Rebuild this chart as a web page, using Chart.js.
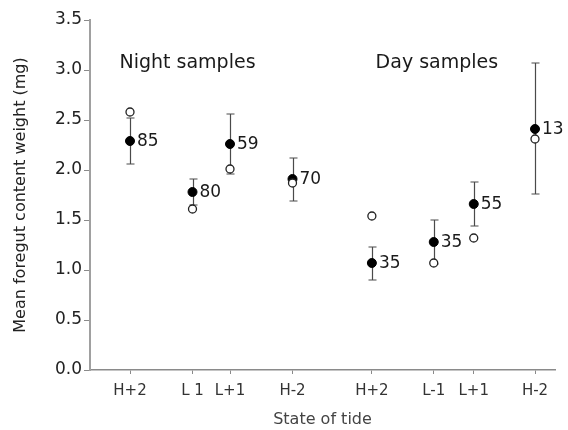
<!DOCTYPE html>
<html>
<head>
<meta charset="utf-8">
<script src="https://cdn.jsdelivr.net/npm/chart.js@4.4.1/dist/chart.umd.min.js"></script>
<style>
  html, body { margin: 0; padding: 0; background: #fff; }
  #wrap { width: 568px; height: 430px; }
</style>
</head>
<body>
<div id="wrap"><canvas id="chart" width="568" height="430"></canvas></div>
<script>
    "use strict";

    // State of tide (x position in tide hours, ticks)
    var tideLabels = ["H+2", "L 1", "L+1", "H-2", "H+2", "L-1", "L+1", "H-2"];
    var tidePos = [0, 1.0, 1.6, 2.6, 3.87, 4.86, 5.5, 6.48];
    // Mean foregut content weight (mg), filled points with error bars
    var meanWeight = [2.29, 1.78, 2.26, 1.91, 1.07, 1.28, 1.66, 2.41];
    var errLow = [2.06, 1.65, 1.96, 1.69, 0.90, 1.06, 1.44, 1.76];
    var errHigh = [2.52, 1.91, 2.56, 2.12, 1.23, 1.50, 1.88, 3.07];
    // Open circles
    var openWeight = [2.58, 1.61, 2.01, 1.87, 1.54, 1.07, 1.32, 2.31];
    // Sample sizes
    var sampleN = [85, 80, 59, 70, 35, 35, 55, 13];
    // Group captions
    var groupNames = ["Night samples", "Day samples"];

    var fontFamily = "'DejaVu Sans', Verdana, sans-serif";
    var axisGrey = "#8a8a8a";

    // Error bars, sample sizes and group captions
    var extrasPlugin = {
        id: "extras",
        beforeDatasetsDraw: function (chart) {
            var ctx = chart.ctx;
            var x = chart.scales.x, y = chart.scales.y;
            ctx.save();
            ctx.strokeStyle = "#4a4a4a";
            ctx.lineWidth = 1.2;
            tidePos.forEach(function (t, i) {
                var px = Math.round(x.getPixelForValue(t)) + 0.5;
                var top = y.getPixelForValue(errHigh[i]);
                var bot = y.getPixelForValue(errLow[i]);
                ctx.beginPath();
                ctx.moveTo(px, top);
                ctx.lineTo(px, bot);
                ctx.moveTo(px - 4, top);
                ctx.lineTo(px + 4, top);
                ctx.moveTo(px - 4, bot);
                ctx.lineTo(px + 4, bot);
                ctx.stroke();
            });
            ctx.restore();
        },
        afterDatasetsDraw: function (chart) {
            var ctx = chart.ctx;
            var x = chart.scales.x, y = chart.scales.y;
            ctx.save();
            ctx.fillStyle = "#1a1a1a";
            ctx.font = "17px " + fontFamily;
            ctx.textAlign = "left";
            ctx.textBaseline = "middle";
            tidePos.forEach(function (t, i) {
                ctx.fillText(String(sampleN[i]), x.getPixelForValue(t) + 7, y.getPixelForValue(meanWeight[i]) + 1);
            });
            ctx.font = "19px " + fontFamily;
            ctx.textAlign = "center";
            ctx.textBaseline = "alphabetic";
            ctx.fillText(groupNames[0], x.getPixelForValue(0.92), y.getPixelForValue(3.02));
            ctx.fillText(groupNames[1], x.getPixelForValue(4.91), y.getPixelForValue(3.02));
            ctx.restore();
        }
    };

    var ctx1 = document.getElementById("chart").getContext("2d");
    var myChart = new Chart(ctx1, {
        type: "scatter",
        data: {
            datasets: [{
                label: "Mean",
                data: tidePos.map(function (t, i) { return { x: t, y: meanWeight[i] }; }),
                backgroundColor: "#000",
                borderColor: "#000",
                borderWidth: 1,
                pointRadius: 4.5,
                order: 1
            },
            {
                label: "Open",
                data: tidePos.map(function (t, i) { return { x: t, y: openWeight[i] }; }),
                backgroundColor: "#fff",
                borderColor: "#222",
                borderWidth: 1.3,
                pointRadius: 4,
                order: 0
            }]
        },
        options: {
            responsive: false,
            animation: false,
            layout: { padding: { top: 20, right: 13, bottom: 0, left: 0 } },
            plugins: {
                legend: { display: false },
                tooltip: { enabled: false }
            },
            scales: {
                x: {
                    type: "linear",
                    min: -0.64,
                    max: 6.8,
                    afterBuildTicks: function (axis) {
                        axis.ticks = tidePos.map(function (t) { return { value: t }; });
                    },
                    afterFit: function (axis) { axis.height = 60; },
                    ticks: {
                        color: "#333",
                        font: { family: fontFamily, size: 15 },
                        padding: 8,
                        maxRotation: 0,
                        autoSkip: false,
                        callback: function (value, index) { return tideLabels[index]; }
                    },
                    grid: { drawOnChartArea: false, drawTicks: true, tickLength: 4, color: axisGrey },
                    border: { display: true, color: axisGrey, width: 1.5 },
                    title: {
                        display: true,
                        text: "State of tide",
                        color: "#444",
                        font: { family: fontFamily, size: 16 },
                        padding: { top: 0, bottom: 1 }
                    }
                },
                y: {
                    min: 0,
                    max: 3.5,
                    afterBuildTicks: function (axis) {
                        var t = [];
                        for (var v = 0; v <= 3.5001; v += 0.5) t.push({ value: Math.round(v * 10) / 10 });
                        axis.ticks = t;
                    },
                    afterFit: function (axis) { axis.width = 90; },
                    ticks: {
                        color: "#222",
                        font: { family: fontFamily, size: 17 },
                        padding: 2,
                        callback: function (value) { return value.toFixed(1); }
                    },
                    grid: { drawOnChartArea: false, drawTicks: true, tickLength: 6, color: axisGrey },
                    border: { display: true, color: "#a0a0a0", width: 2 },
                    title: {
                        display: true,
                        text: "Mean foregut content weight (mg)",
                        color: "#222",
                        font: { family: fontFamily, size: 16 },
                        padding: { top: 11, bottom: 0 }
                    }
                }
            }
        },
        plugins: [extrasPlugin]
    });
</script>
</body>
</html>
